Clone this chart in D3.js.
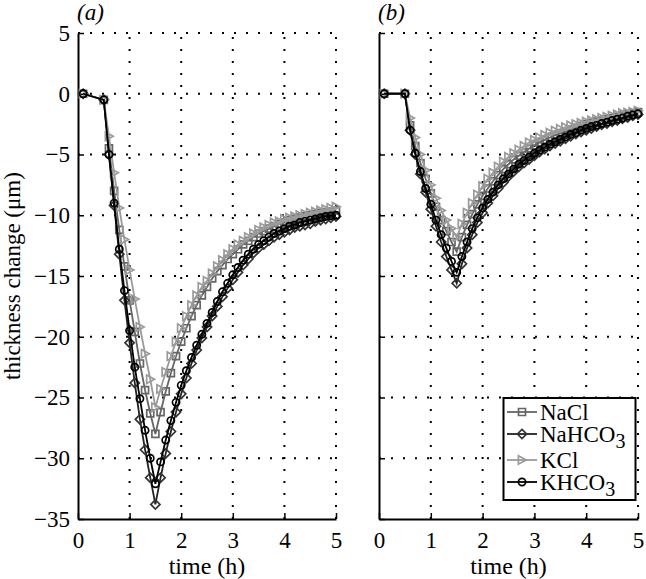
<!DOCTYPE html>
<html><head><meta charset="utf-8">
<script src="https://cdn.jsdelivr.net/npm/d3@7"></script>
<style>
body{margin:0;background:#fff}
svg text{font-family:"Liberation Serif","Times New Roman","DejaVu Serif",serif;}
</style></head>
<body>
<svg id="c" width="646" height="579" xmlns="http://www.w3.org/2000/svg"></svg>
<script>
// ---- data ----
const time = [0.1,0.5,0.6,0.7,0.8,0.9,1.0,1.1,1.2,1.3,1.4,1.5,1.6,1.7,1.8,1.9,2.0,
  2.1,2.2,2.3,2.4,2.5,2.6,2.7,2.8,2.9,3.0,3.1,3.2,3.3,3.4,3.5,3.6,3.7,3.8,3.9,4.0,
  4.1,4.2,4.3,4.4,4.5,4.6,4.7,4.8,4.9,5.0];
const xTicks = [0,1,2,3,4,5];
const yTicks = [5,0,-5,-10,-15,-20,-25,-30,-35];
const seriesNames = ["NaCl","NaHCO3","KCl","KHCO3"];
const panelLabels = ["(a)","(b)"];

const aNaCl = [0,-0.5,-4.5,-8.0,-11.2,-14.2,-17.0,-19.6,-22.2,-24.4,-26.3,-28.0,
  -26.2,-24.5,-23.0,-21.6,-20.4,
  -19.3,-18.3,-17.4,-16.6,-15.9,-15.2,-14.6,-14.1,-13.6,-13.2,
  -12.8,-12.4,-12.1,-11.8,-11.5,-11.3,-11.1,-10.9,-10.7,-10.6,
  -10.4,-10.3,-10.2,-10.1,-10.0,-9.9,-9.8,-9.75,-9.7,-9.6];
const aNaHCO3 = [0,-0.5,-5.0,-9.2,-13.2,-17.0,-20.5,-23.8,-26.8,-29.3,-31.6,-33.8,
  -31.6,-29.6,-27.8,-26.2,-24.7,
  -23.4,-22.2,-21.1,-20.1,-19.2,-18.3,-17.5,-16.7,-16.0,-15.3,
  -14.7,-14.1,-13.6,-13.1,-12.7,-12.4,-12.1,-11.8,-11.6,-11.4,
  -11.2,-11.0,-10.9,-10.8,-10.7,-10.5,-10.4,-10.3,-10.2,-10.1];
const aKCl = [0,-0.5,-3.5,-6.5,-9.4,-12.0,-14.5,-16.9,-19.2,-21.4,-23.5,-25.8,
  -24.3,-22.9,-21.6,-20.4,-19.3,
  -18.3,-17.4,-16.6,-15.9,-15.4,-14.8,-14.2,-13.7,-13.2,-12.8,
  -12.4,-12.1,-11.8,-11.5,-11.2,-11.0,-10.8,-10.6,-10.5,-10.3,
  -10.2,-10.1,-10.0,-9.9,-9.8,-9.7,-9.6,-9.5,-9.4,-9.3];
const aKHCO3 = [0,-0.5,-5.0,-9.0,-12.8,-16.2,-19.5,-22.5,-25.1,-27.7,-30.0,-32.1,
  -30.3,-28.5,-26.9,-25.4,-24.0,
  -22.8,-21.7,-20.7,-19.8,-18.9,-18.0,-17.1,-16.3,-15.6,-14.9,
  -14.3,-13.7,-13.2,-12.8,-12.4,-12.1,-11.8,-11.5,-11.3,-11.1,
  -10.9,-10.8,-10.6,-10.5,-10.4,-10.3,-10.2,-10.1,-10.05,-10.0];

const bNaCl = [0,0,-2.6,-4.3,-5.7,-7.0,-8.2,-9.3,-10.4,-11.3,-12.2,-13.0,
  -11.8,-10.8,-9.9,-9.1,-8.4,
  -7.8,-7.2,-6.7,-6.2,-5.8,-5.4,-5.1,-4.8,-4.5,-4.25,
  -4.0,-3.8,-3.6,-3.4,-3.25,-3.1,-2.95,-2.8,-2.65,-2.5,
  -2.4,-2.3,-2.2,-2.1,-2.0,-1.9,-1.8,-1.7,-1.6,-1.5];
const bNaHCO3 = [0,0,-3.0,-5.0,-6.6,-8.1,-9.5,-10.9,-12.2,-13.4,-14.5,-15.6,
  -14.0,-12.7,-11.6,-10.6,-9.8,
  -9.0,-8.4,-7.8,-7.3,-6.8,-6.4,-6.0,-5.7,-5.4,-5.1,
  -4.8,-4.55,-4.3,-4.1,-3.9,-3.7,-3.5,-3.3,-3.15,-3.0,
  -2.85,-2.7,-2.55,-2.45,-2.3,-2.2,-2.05,-1.95,-1.8,-1.7];
const bKCl = [0,0,-2.0,-3.6,-5.0,-6.3,-7.5,-8.6,-9.6,-10.4,-11.1,-11.8,
  -10.7,-9.8,-9.0,-8.3,-7.6,
  -7.0,-6.5,-6.0,-5.6,-5.2,-4.9,-4.6,-4.3,-4.0,-3.8,
  -3.6,-3.4,-3.2,-3.05,-2.9,-2.75,-2.6,-2.5,-2.4,-2.3,
  -2.2,-2.1,-2.0,-1.9,-1.8,-1.7,-1.6,-1.55,-1.5,-1.4];
const bKHCO3 = [0,0,-3.0,-4.9,-6.4,-7.8,-9.1,-10.4,-11.6,-12.7,-13.8,-14.7,
  -13.4,-12.2,-11.1,-10.2,-9.4,
  -8.7,-8.1,-7.5,-7.0,-6.6,-6.2,-5.8,-5.5,-5.2,-4.9,
  -4.65,-4.4,-4.15,-3.95,-3.75,-3.55,-3.35,-3.2,-3.0,-2.85,
  -2.7,-2.6,-2.45,-2.35,-2.2,-2.1,-2.0,-1.85,-1.75,-1.65];

// ---- styles ----
const styles = {
  NaCl:   {line:"#666666", mark:"#666666", shape:"square"},
  NaHCO3: {line:"#222222", mark:"#333333", shape:"diamond"},
  KCl:    {line:"#9a9a9a", mark:"#9a9a9a", shape:"triangle"},
  KHCO3:  {line:"#000000", mark:"#000000", shape:"circle"}
};
function markerPath(shape){
  switch(shape){
    case "square": return "M-3.5,-3.5H3.5V3.5H-3.5Z";
    case "diamond": return "M0,-4.6L4.6,0L0,4.6L-4.6,0Z";
    case "triangle": return "M-3.6,-4.2L4.2,0L-3.6,4.2Z";
    default: return "M3.6,0A3.6,3.6 0 1,1 -3.6,0A3.6,3.6 0 1,1 3.6,0Z";
  }
}

const svg = d3.select("#c");
const FONT = "Liberation Serif, DejaVu Serif, serif";
const y = d3.scaleLinear().domain([-35,5]).range([519,33]);
const panels = [
  {x: d3.scaleLinear().domain([0,5]).range([78,336]), data:[aNaCl,aNaHCO3,aKCl,aKHCO3], yLabels:true},
  {x: d3.scaleLinear().domain([0,5]).range([379,638]), data:[bNaCl,bNaHCO3,bKCl,bKHCO3], yLabels:false}
];

panels.forEach((p,pi)=>{
  const g = svg.append("g");
  const [x0,x1] = p.x.range();
  const [y0,y1] = [y(-35), y(5)];
  g.selectAll(".gx").data(xTicks.filter(t=>t>0)).join("line")
    .attr("x1",d=>p.x(d)).attr("x2",d=>p.x(d)).attr("y1",y0).attr("y2",y1)
    .attr("stroke","#000").attr("stroke-width",2).attr("stroke-dasharray","2,10");
  g.selectAll(".gy").data(yTicks.filter(t=>t>-35)).join("line")
    .attr("x1",x0).attr("x2",x1).attr("y1",d=>y(d)).attr("y2",d=>y(d))
    .attr("stroke","#000").attr("stroke-width",2).attr("stroke-dasharray","2,10");
  const ax = g.append("g").attr("transform",`translate(0,${y0})`)
    .call(d3.axisBottom(p.x).tickValues(xTicks).tickFormat(d3.format("d"))
      .tickSizeInner(-6).tickSizeOuter(0).tickPadding(8));
  const ay = g.append("g").attr("transform",`translate(${x0},0)`)
    .call(d3.axisLeft(y).tickValues(yTicks).tickSizeInner(-6).tickSizeOuter(0).tickPadding(8)
      .tickFormat(d=> p.yLabels ? (d<0 ? "\u2212"+Math.abs(d) : String(d)) : ""));
  [ax,ay].forEach(a=>{
    a.attr("font-family",FONT);
    a.select(".domain").attr("stroke","#000").attr("stroke-width",2);
    a.selectAll(".tick line").attr("stroke","#000").attr("stroke-width",1.5);
    a.selectAll("text").attr("font-size",23).attr("fill","#000");
  });
  ax.selectAll("text").attr("dy","0.9em");
  const line = d3.line().x((d,i)=>p.x(time[i])).y(d=>y(d));
  seriesNames.forEach((name,si)=>{
    const st = styles[name];
    const vals = p.data[si];
    g.append("path").attr("d",line(vals)).attr("fill","none")
      .attr("stroke",st.line).attr("stroke-width",1.8);
    g.selectAll(null).data(vals).join("path")
      .attr("transform",(d,i)=>`translate(${p.x(time[i])},${y(d)})`)
      .attr("d",markerPath(st.shape)).attr("fill","none")
      .attr("stroke",st.mark).attr("stroke-width",1.7);
  });
  svg.append("text").attr("x",x0-1).attr("y",20)
    .attr("font-size",23).attr("font-style","italic").text(panelLabels[pi]);
});

svg.append("text").attr("x",(78+336)/2).attr("y",574).attr("text-anchor","middle")
  .attr("font-size",24).text("time (h)");
svg.append("text").attr("x",(379+638)/2).attr("y",574).attr("text-anchor","middle")
  .attr("font-size",24).text("time (h)");
svg.append("text").attr("transform",`translate(20,${(519+33)/2}) rotate(-90)`)
  .attr("text-anchor","middle").attr("font-size",23)
  .text("thickness change (\u03bcm)");

const lg = svg.append("g");
lg.append("rect").attr("x",503.5).attr("y",398).attr("width",132).attr("height",102)
  .attr("fill","#fff").attr("stroke","#000").attr("stroke-width",2);
const rowY = [412,434,460,482];
seriesNames.forEach((name,i)=>{
  const st = styles[name];
  lg.append("line").attr("x1",507).attr("x2",537).attr("y1",rowY[i]).attr("y2",rowY[i])
    .attr("stroke",st.line).attr("stroke-width",1.8);
  lg.append("path").attr("transform",`translate(522,${rowY[i]})`).attr("d",markerPath(st.shape))
    .attr("fill","none").attr("stroke",st.mark).attr("stroke-width",1.7);
  const t = lg.append("text").attr("x",540).attr("y",rowY[i]+8).attr("font-size",23);
  const m = name.match(/^(.*?)(\d)$/);
  if(m){
    t.append("tspan").text(m[1]);
    t.append("tspan").attr("font-size",20).attr("dy",6).text(m[2]);
  } else t.text(name);
});
</script>
</body></html>
